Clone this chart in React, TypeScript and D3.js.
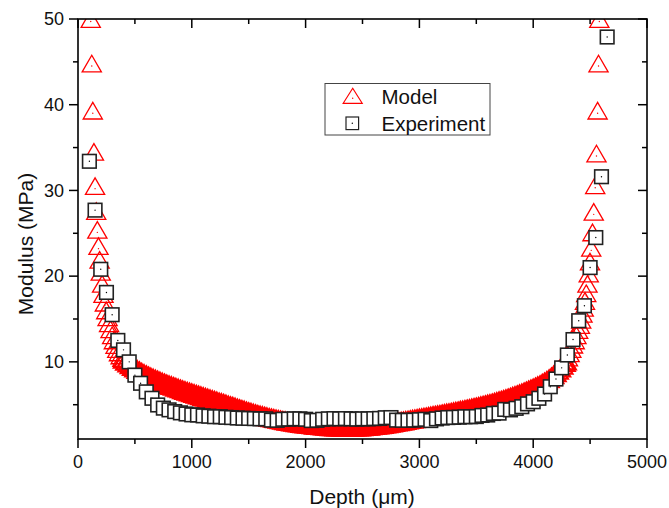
import React from "react";
import * as d3 from "d3";

const W = 669;
const H = 508;
const PLOT = { left: 78, top: 19, right: 647, bottom: 439 };

const xMajorTicks = [0, 1000, 2000, 3000, 4000, 5000];
const xMinorTicks = [500, 1500, 2500, 3500, 4500];
const yMajorTicks = [10, 20, 30, 40, 50];
const yMinorTicks = [5, 15, 25, 35, 45];

const xTitle = "Depth (\u03bcm)";
const yTitle = "Modulus (MPa)";
const legendLabels = ["Model", "Experiment"];

// Model (triangles)
const modelDepth = [
  112, 121, 130, 140, 150, 160, 170, 180, 190, 200, 212, 224, 236, 248, 260, 273, 286, 300, 315, 330, 345, 360, 375, 390,
  400, 420, 440, 460, 480, 500, 520, 540, 560, 580,
  600, 620, 640, 660, 680, 700, 720, 740, 760, 780,
  800, 820, 840, 860, 880, 900, 920, 940, 960, 980,
  1000, 1020, 1040, 1060, 1080, 1100, 1120, 1140, 1160, 1180,
  1200, 1220, 1240, 1260, 1280, 1300, 1320, 1340, 1360, 1380,
  1400, 1420, 1440, 1460, 1480, 1500, 1520, 1540, 1560, 1580,
  1600, 1620, 1640, 1660, 1680, 1700, 1720, 1740, 1760, 1780,
  1800, 1820, 1840, 1860, 1880, 1900, 1920, 1940, 1960, 1980,
  2000, 2020, 2040, 2060, 2080, 2100, 2120, 2140, 2160, 2180,
  2200, 2220, 2240, 2260, 2280, 2300, 2320, 2340, 2360, 2380,
  2400, 2420, 2440, 2460, 2480, 2500, 2520, 2540, 2560, 2580,
  2600, 2620, 2640, 2660, 2680, 2700, 2720, 2740, 2760, 2780,
  2800, 2820, 2840, 2860, 2880, 2900, 2920, 2940, 2960, 2980,
  3000, 3020, 3040, 3060, 3080, 3100, 3120, 3140, 3160, 3180,
  3200, 3220, 3240, 3260, 3280, 3300, 3320, 3340, 3360, 3380,
  3400, 3420, 3440, 3460, 3480, 3500, 3520, 3540, 3560, 3580,
  3600, 3620, 3640, 3660, 3680, 3700, 3720, 3740, 3760, 3780,
  3800, 3820, 3840, 3860, 3880, 3900, 3920, 3940, 3960, 3980,
  4000, 4020, 4040, 4060, 4080, 4100, 4120, 4140, 4160, 4180,
  4200, 4220, 4240, 4260, 4280,
  4290, 4305, 4320, 4335, 4350, 4365, 4380, 4395, 4410, 4422, 4433, 4444, 4455, 4466, 4477, 4488,
  4499, 4510, 4521, 4532, 4545, 4556, 4566, 4574, 4581,
];
const modelModulus = [
  50, 44.8, 39.3, 34.5, 30.5, 27.6, 25.4, 23.5, 21.9, 20.5, 19.1, 17.9, 16.9, 16.0, 15.2, 14.5, 13.8, 13.1, 12.5, 11.95, 11.5, 11.1, 10.75, 10.45,
  10.3, 10.06, 9.85, 9.65, 9.46, 9.28, 9.11, 8.95, 8.79, 8.64,
  8.5, 8.36, 8.23, 8.11, 7.99, 7.87, 7.76, 7.65, 7.54, 7.43,
  7.33, 7.23, 7.13, 7.03, 6.94, 6.84, 6.74, 6.65, 6.57, 6.48,
  6.39, 6.3, 6.21, 6.13, 6.04, 5.95, 5.86, 5.77, 5.69, 5.6,
  5.51, 5.42, 5.33, 5.25, 5.16, 5.07, 4.98, 4.89, 4.81, 4.72,
  4.63, 4.54, 4.45, 4.37, 4.28, 4.19, 4.11, 4.03, 3.95, 3.87,
  3.8, 3.73, 3.66, 3.59, 3.52, 3.46, 3.4, 3.34, 3.28, 3.23,
  3.17, 3.12, 3.07, 3.02, 2.98, 2.93, 2.89, 2.85, 2.81, 2.77,
  2.73, 2.7, 2.67, 2.64, 2.6, 2.57, 2.55, 2.52, 2.5, 2.47,
  2.45, 2.43, 2.42, 2.4, 2.39, 2.38, 2.37, 2.36, 2.36, 2.36,
  2.36, 2.37, 2.38, 2.39, 2.4, 2.42, 2.44, 2.47, 2.49, 2.52,
  2.55, 2.58, 2.61, 2.65, 2.69, 2.73, 2.77, 2.82, 2.86, 2.91,
  2.96, 3.01, 3.06, 3.1, 3.15, 3.2, 3.25, 3.3, 3.34, 3.39,
  3.44, 3.49, 3.54, 3.58, 3.63, 3.68, 3.73, 3.78, 3.82, 3.87,
  3.92, 3.97, 4.02, 4.06, 4.11, 4.17, 4.23, 4.28, 4.34, 4.39,
  4.45, 4.51, 4.56, 4.62, 4.68, 4.74, 4.8, 4.87, 4.93, 5.0,
  5.07, 5.14, 5.21, 5.29, 5.37, 5.45, 5.53, 5.62, 5.7, 5.79,
  5.88, 5.98, 6.07, 6.17, 6.28, 6.38, 6.49, 6.6, 6.72, 6.84,
  6.95, 7.07, 7.2, 7.34, 7.49, 7.65, 7.83, 8.02, 8.24, 8.47,
  8.72, 9.0, 9.28, 9.58, 9.92,
  10.1, 10.5, 11.0, 11.5, 12.0, 12.5, 13.1, 13.7, 14.3, 14.9, 15.6, 16.3, 17.1, 18.0, 19.1, 20.3,
  21.7, 23.3, 25.1, 27.5, 30.6, 34.3, 39.3, 44.8, 50,
];

// Experiment (squares)
const expDepth = [
  100, 150, 200, 250, 300, 350, 400, 450, 500, 550, 600, 650, 700, 750, 800, 850, 900, 950,
  1000, 1050, 1100, 1150, 1200, 1250, 1300, 1350, 1400, 1450, 1500, 1550, 1600, 1650, 1700, 1750, 1800, 1850, 1900, 1950,
  2000, 2050, 2100, 2150, 2200, 2250, 2300, 2350, 2400, 2450, 2500, 2550, 2600, 2650, 2700, 2750, 2800, 2850, 2900, 2950,
  3000, 3050, 3100, 3150, 3200, 3250, 3300, 3350, 3400, 3450, 3500, 3550, 3600, 3650, 3700, 3750, 3800, 3850, 3900, 3950,
  4000, 4050, 4100, 4150, 4200, 4250, 4300, 4350, 4400, 4450, 4500, 4550, 4600, 4650,
];
const expModulus = [
  33.4, 27.7, 20.8, 18.1, 15.5, 12.5, 11.4, 10.0, 8.45, 7.5, 6.5, 5.75, 4.97, 4.6, 4.4, 4.2, 4.05, 3.92,
  3.82, 3.8, 3.7, 3.66, 3.6, 3.6, 3.53, 3.5, 3.45, 3.42, 3.4, 3.38, 3.35, 3.35, 3.2, 3.18, 3.3, 3.32, 3.35, 3.35,
  3.3, 3.15, 3.18, 3.3, 3.35, 3.38, 3.35, 3.38, 3.35, 3.32, 3.35, 3.35, 3.38, 3.4, 3.48, 3.5, 3.2, 3.18, 3.18, 3.2,
  3.25, 3.3, 3.15, 3.35, 3.45, 3.5, 3.52, 3.55, 3.6, 3.6, 3.62, 3.75, 3.8, 3.98, 4.02, 4.45, 4.4, 4.58, 4.77, 5.1,
  5.35, 5.75, 6.25, 7.1, 8.0, 9.3, 10.8, 12.6, 14.8, 16.55, 21.0, 24.5, 31.6, 47.9,
];

const FONT = "'Liberation Sans', Arial, Helvetica, sans-serif";

export default function App() {
  const x = d3.scaleLinear().domain([0, 5000]).range([PLOT.left, PLOT.right]);
  const y = d3.scaleLinear().domain([1, 50]).range([PLOT.bottom, PLOT.top]);

  const tri = "M0,-8.3L9.6,8.3L-9.6,8.3Z";
  const legendTri = "M0,-7.5L9.5,7.5L-9.5,7.5Z";

  const model = modelDepth
    .slice(0, Math.min(modelDepth.length, modelModulus.length))
    .map((d, i) => ({ d, v: modelModulus[i] }));
  const exp = expDepth
    .slice(0, Math.min(expDepth.length, expModulus.length))
    .map((d, i) => ({ d, v: expModulus[i] }));

  const axisColor = "#000";
  const major = 9;
  const minor = 5;

  return (
    <svg
      width={W}
      height={H}
      style={{ position: "absolute", left: 0, top: 0, background: "#fff" }}
      fontFamily={FONT}
    >
      <defs>
        <clipPath id="plotClip">
          <rect x={PLOT.left} y={PLOT.top} width={PLOT.right - PLOT.left} height={PLOT.bottom - PLOT.top} />
        </clipPath>
      </defs>
      <rect x={0} y={0} width={W} height={H} fill="#fff" />

      <g clipPath="url(#plotClip)">
        {model.map((p, i) => (
          <g key={"m" + i} transform={`translate(${x(p.d)},${y(p.v)})`}>
            <path d={tri} fill="none" stroke="#ff0000" strokeWidth={p.v < 10.4 ? 2.2 : 1.3} />
            <circle cx={0} cy={2.5} r={0.7} fill="#ff0000" />
          </g>
        ))}
        {exp.map((p, i) => (
          <g key={"e" + i} transform={`translate(${x(p.d)},${y(p.v)})`}>
            <rect x={-6.8} y={-6.8} width={13.6} height={13.6} fill="#fff" stroke="#222" strokeWidth={1.6} />
            <circle cx={0} cy={0} r={0.7} fill="#000" />
          </g>
        ))}
      </g>

      {/* axes box */}
      <rect
        x={PLOT.left}
        y={PLOT.top}
        width={PLOT.right - PLOT.left}
        height={PLOT.bottom - PLOT.top}
        fill="none"
        stroke={axisColor}
        strokeWidth={1.6}
      />

      {/* bottom ticks (outward) and top ticks (inward) */}
      {xMajorTicks.map((t) => (
        <g key={"xt" + t}>
          <line x1={x(t)} x2={x(t)} y1={PLOT.bottom} y2={PLOT.bottom + major} stroke={axisColor} strokeWidth={1.5} />
          <line x1={x(t)} x2={x(t)} y1={PLOT.top} y2={PLOT.top + major} stroke={axisColor} strokeWidth={1.5} />
          <text x={x(t)} y={468} textAnchor="middle" fontSize={18} fill="#111">
            {t}
          </text>
        </g>
      ))}
      {xMinorTicks.map((t) => (
        <g key={"xm" + t}>
          <line x1={x(t)} x2={x(t)} y1={PLOT.bottom} y2={PLOT.bottom + minor} stroke={axisColor} strokeWidth={1.5} />
          <line x1={x(t)} x2={x(t)} y1={PLOT.top} y2={PLOT.top + minor} stroke={axisColor} strokeWidth={1.5} />
        </g>
      ))}

      {/* left ticks (outward) and right ticks (inward) */}
      {yMajorTicks.map((t) => (
        <g key={"yt" + t}>
          <line x1={PLOT.left - major} x2={PLOT.left} y1={y(t)} y2={y(t)} stroke={axisColor} strokeWidth={1.5} />
          <line x1={PLOT.right - major} x2={PLOT.right} y1={y(t)} y2={y(t)} stroke={axisColor} strokeWidth={1.5} />
          <text x={64} y={y(t) + 6.3} textAnchor="end" fontSize={18} fill="#111">
            {t}
          </text>
        </g>
      ))}
      {yMinorTicks.map((t) => (
        <g key={"ym" + t}>
          <line x1={PLOT.left - minor} x2={PLOT.left} y1={y(t)} y2={y(t)} stroke={axisColor} strokeWidth={1.5} />
          <line x1={PLOT.right - minor} x2={PLOT.right} y1={y(t)} y2={y(t)} stroke={axisColor} strokeWidth={1.5} />
        </g>
      ))}

      {/* axis titles */}
      <text x={362} y={504} textAnchor="middle" fontSize={21} fill="#111">
        {xTitle}
      </text>
      <text transform={`translate(33,244) rotate(-90)`} textAnchor="middle" fontSize={21} fill="#111">
        {yTitle}
      </text>

      {/* legend */}
      <g>
        <rect x={325} y={83.5} width={165} height={51.5} fill="#fff" stroke="#444" strokeWidth={1} />
        <g transform="translate(352.7,95.8)">
          <path d={legendTri} fill="none" stroke="#ff0000" strokeWidth={1.2} />
          <circle cx={0} cy={2.5} r={0.7} fill="#ff0000" />
        </g>
        <g transform="translate(352.3,123.3)">
          <rect x={-6.3} y={-6.3} width={12.6} height={12.6} fill="#fff" stroke="#222" strokeWidth={1.2} />
          <circle cx={0} cy={0} r={0.7} fill="#000" />
        </g>
        <text x={381.5} y={104} fontSize={20.5} fill="#111">
          {legendLabels[0]}
        </text>
        <text x={381.5} y={130.5} fontSize={20.5} fill="#111">
          {legendLabels[1]}
        </text>
      </g>
    </svg>
  );
}
